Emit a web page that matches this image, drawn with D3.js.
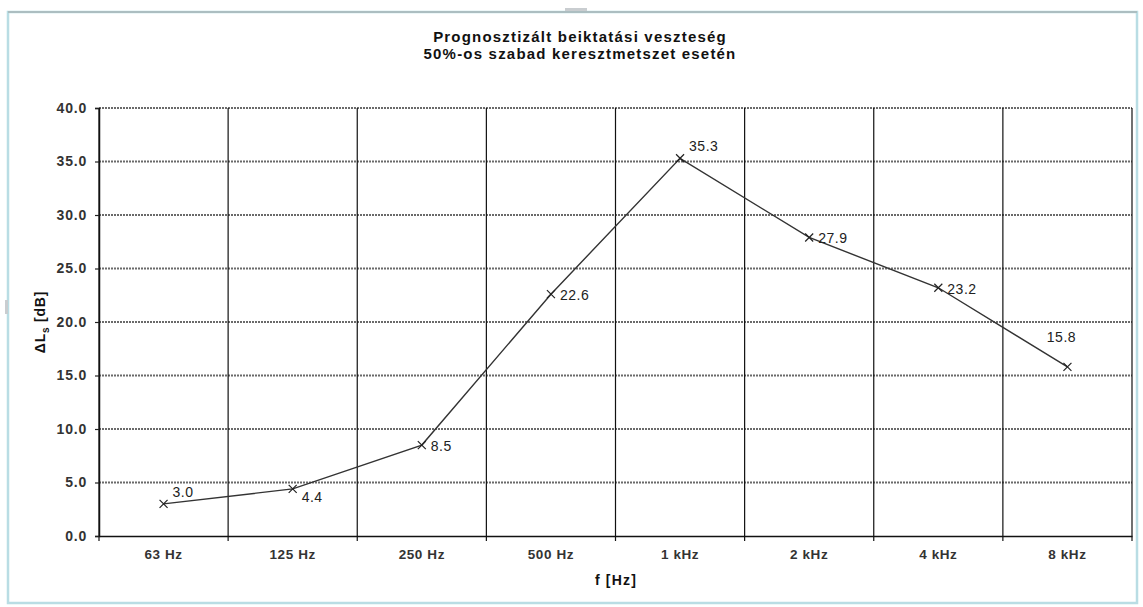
<!DOCTYPE html>
<html>
<head>
<meta charset="utf-8">
<script src="https://cdn.jsdelivr.net/npm/d3@7"></script>
<style>
  body { margin: 0; background: #fff; }
  svg { display: block; font-family: "Liberation Sans", Arial, sans-serif; }
</style>
</head>
<body>
<div id="chart"></div>
<script>
// data
const categories = ["63 Hz", "125 Hz", "250 Hz", "500 Hz", "1 kHz", "2 kHz", "4 kHz", "8 kHz"];
const values = [3.0, 4.4, 8.5, 22.6, 35.3, 27.9, 23.2, 15.8];
const yTicks = [0, 5, 10, 15, 20, 25, 30, 35, 40];
// where each data label sits relative to its point
const labelPos = ["above", "below", "right", "right", "above", "right", "right", "top"];

const width = 1143, height = 607;
const margin = { top: 108, left: 99, right: 11, bottom: 71 };

const svg = d3.select("#chart").append("svg")
  .attr("width", width)
  .attr("height", height);

// outer frame
svg.append("rect")
  .attr("x", 8).attr("y", 12)
  .attr("width", 1129).attr("height", 591)
  .attr("fill", "none")
  .attr("stroke", "#b9dde4")
  .attr("stroke-width", 2.5);
svg.append("line")
  .attr("x1", 8).attr("x2", 1137).attr("y1", 12).attr("y2", 12)
  .attr("stroke", "#a9b3b6").attr("stroke-width", 1.5);
svg.append("rect").attr("x", 565).attr("y", 8).attr("width", 22).attr("height", 3).attr("fill", "#c9cdd0");
svg.append("rect").attr("x", 5).attr("y", 300).attr("width", 3).attr("height", 14).attr("fill", "#c9cdd0");

const x = d3.scaleBand()
  .domain(categories)
  .range([margin.left, width - margin.right]);

const y = d3.scaleLinear()
  .domain([0, 40])
  .range([height - margin.bottom, margin.top]);

// title
const title = svg.append("text")
  .attr("text-anchor", "middle")
  .style("font-weight", "bold")
  .style("font-size", "15px")
  .style("letter-spacing", "1.2px")
  .style("fill", "#111");
title.append("tspan").attr("x", 580).attr("y", 42).text("Prognosztizált beiktatási veszteség");
title.append("tspan").attr("x", 580).attr("y", 59).text("50%-os szabad keresztmetszet esetén");

// horizontal gridlines
svg.append("g")
  .selectAll("line")
  .data(yTicks.filter(d => d > 0))
  .join("line")
  .attr("x1", margin.left)
  .attr("x2", width - margin.right)
  .attr("y1", d => y(d))
  .attr("y2", d => y(d))
  .attr("stroke", "#6a6a6a")
  .attr("stroke-width", 2)
  .attr("stroke-dasharray", "2,1");

// vertical gridlines at category boundaries (with tick marks below the axis)
const bounds = categories.map(c => x(c)).concat([x.range()[1]]);
svg.append("g")
  .selectAll("line")
  .data(bounds)
  .join("line")
  .attr("x1", d => d)
  .attr("x2", d => d)
  .attr("y1", y(40))
  .attr("y2", y(0) + 5)
  .attr("stroke", "#111")
  .attr("stroke-width", 1.2);

// y axis
const yAxis = svg.append("g")
  .attr("transform", "translate(" + margin.left + ",0)")
  .call(d3.axisLeft(y).tickValues(yTicks).tickFormat(d3.format(".1f")).tickSize(4).tickPadding(8));
yAxis.select(".domain").attr("stroke", "#111").attr("stroke-width", 1.5);
yAxis.selectAll(".tick line").attr("stroke", "#222").attr("stroke-width", 1.2);
yAxis.selectAll(".tick text")
  .style("font-size", "14px")
  .style("font-weight", "bold")
  .style("letter-spacing", "0.8px")
  .style("fill", "#333");

// x axis
const xAxis = svg.append("g")
  .attr("transform", "translate(0," + y(0) + ")")
  .call(d3.axisBottom(x).tickSize(0).tickPadding(13));
xAxis.select(".domain").attr("stroke", "#111").attr("stroke-width", 1.5);
xAxis.selectAll(".tick text")
  .style("font-size", "13.5px")
  .style("font-weight", "bold")
  .style("letter-spacing", "0.6px")
  .style("fill", "#333");

// axis titles
const yTitle = svg.append("text")
  .attr("transform", "translate(45,322) rotate(-90)")
  .attr("text-anchor", "middle")
  .style("font-weight", "bold")
  .style("font-size", "14px")
  .style("letter-spacing", "0.8px")
  .style("fill", "#111");
yTitle.append("tspan").text("ΔL");
yTitle.append("tspan").attr("dy", 4).style("font-size", "10px").text("s");
yTitle.append("tspan").attr("dy", -4).text(" [dB]");

svg.append("text")
  .attr("x", 616)
  .attr("y", 585)
  .attr("text-anchor", "middle")
  .style("font-weight", "bold")
  .style("font-size", "14px")
  .style("letter-spacing", "1.2px")
  .style("fill", "#111")
  .text("f [Hz]");

// line
const cx = (d, i) => x(categories[i]) + x.bandwidth() / 2;
const line = d3.line()
  .x((d, i) => cx(d, i))
  .y(d => y(d));

svg.append("path")
  .datum(values)
  .attr("d", line)
  .attr("fill", "none")
  .attr("stroke", "#333")
  .attr("stroke-width", 1.4);

// x markers
const s = 4;
svg.append("g")
  .selectAll("path")
  .data(values)
  .join("path")
  .attr("d", (d, i) => {
    const px = cx(d, i), py = y(d);
    return "M" + (px - s) + "," + (py - s) + "L" + (px + s) + "," + (py + s) +
           "M" + (px - s) + "," + (py + s) + "L" + (px + s) + "," + (py - s);
  })
  .attr("stroke", "#222")
  .attr("stroke-width", 1.2);

// data labels
svg.append("g")
  .selectAll("text")
  .data(values)
  .join("text")
  .attr("x", (d, i) => {
    const p = labelPos[i];
    return cx(d, i) + (p === "top" ? -6 : 9);
  })
  .attr("y", (d, i) => {
    const p = labelPos[i];
    const py = y(d);
    if (p === "above") return py - 7;
    if (p === "below") return py + 13;
    if (p === "top") return py - 25;
    return py + 6;
  })
  .attr("text-anchor", (d, i) => labelPos[i] === "top" ? "middle" : "start")
  .style("font-size", "14px")
  .style("letter-spacing", "0.5px")
  .style("fill", "#222")
  .text(d => d3.format(".1f")(d));
</script>
</body>
</html>
